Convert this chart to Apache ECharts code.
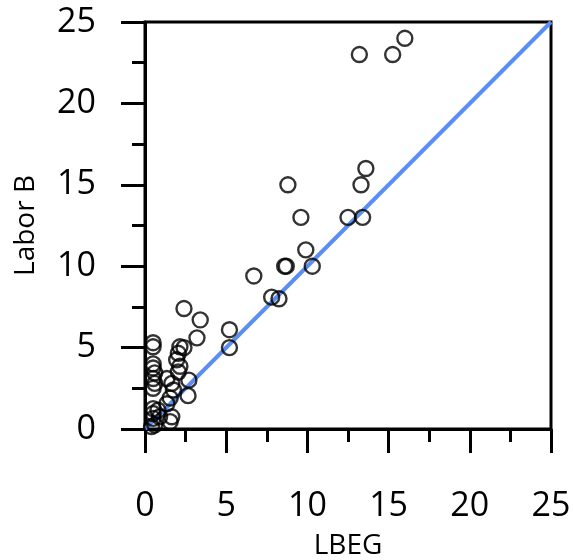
<!DOCTYPE html>
<html>
<head>
<meta charset="utf-8">
<script src="https://cdn.jsdelivr.net/npm/echarts@6/dist/echarts.min.js"></script>
<style>html,body{margin:0;padding:0;background:#fff;}#c{width:573px;height:560px;}</style>
</head>
<body>
<div id="c"></div>
<script>
// Data
var xTicks = [0, 5, 10, 15, 20, 25];
var yTicks = [0, 5, 10, 15, 20, 25];
var points = [
  [13.2, 23], [15.25, 23], [16.0, 24], [13.6, 16], [13.3, 15], [8.8, 15],
  [9.6, 13], [12.5, 13], [13.4, 13], [9.9, 11], [10.3, 10], [8.6, 10], [8.7, 10],
  [6.7, 9.4], [7.8, 8.1], [8.25, 8.0],
  [2.4, 7.4], [3.4, 6.7], [5.2, 6.1], [5.2, 5.0], [3.2, 5.6], [0.5, 5.3], [0.5, 5.05],
  [2.15, 5.05], [2.4, 5.0], [2.05, 4.65], [1.95, 4.25], [2.15, 3.85], [2.05, 3.5],
  [0.5, 4.0], [0.5, 3.75], [0.6, 3.45], [0.5, 3.1], [0.6, 2.8], [1.35, 3.1], [1.65, 2.8],
  [2.7, 3.0], [0.5, 2.5], [1.75, 2.4], [2.65, 2.05], [1.55, 1.9], [1.35, 1.55],
  [0.5, 1.25], [0.8, 1.15], [0.5, 0.95], [1.65, 0.75], [1.55, 0.45], [0.5, 0.65],
  [0.9, 0.75], [0.6, 0.25], [0.4, 0.15]
];
var identityLine = [[0, 0], [25, 25]];
var xName = 'LBEG';
var yName = 'Labor B';

var chart = echarts.init(document.getElementById('c'));
var font = '"Open Sans", sans-serif';
function axis(name, nameGap, labelMargin) {
  return {
    type: 'value', min: 0, max: 25, interval: 5,
    name: name, nameLocation: 'middle', nameGap: nameGap,
    nameTextStyle: { color: '#000', fontSize: 28, fontFamily: font },
    axisLine: { show: true, lineStyle: { color: '#000', width: 3 } },
    axisTick: { show: true, inside: false, length: 24, lineStyle: { color: '#000', width: 3 } },
    minorTick: { show: true, splitNumber: 2, length: 13, lineStyle: { color: '#000', width: 3 } },
    splitLine: { show: false },
    minorSplitLine: { show: false },
    axisLabel: { color: '#000', fontSize: 34, fontFamily: font, margin: labelMargin,
      formatter: function (v) { return String(v); } }
  };
}
chart.setOption({
  animation: false,
  backgroundColor: '#fff',
  grid: { left: 145, right: 22, top: 22, bottom: 131, containLabel: false, outerBoundsMode: 'none',
    show: true, borderColor: '#000', borderWidth: 3, backgroundColor: 'transparent' },
  xAxis: axis(xName, 103, 60),
  yAxis: axis(yName, 105, 49),
  series: [
    { type: 'line', data: identityLine, symbol: 'none', lineStyle: { color: '#5b8ef5', width: 4 }, z: 1 },
    { type: 'scatter', data: points, symbol: 'circle', symbolSize: 15,
      itemStyle: { color: 'rgba(0,0,0,0)', borderColor: '#000', borderWidth: 2.4 }, z: 2 }
  ]
});
</script>
</body>
</html>
